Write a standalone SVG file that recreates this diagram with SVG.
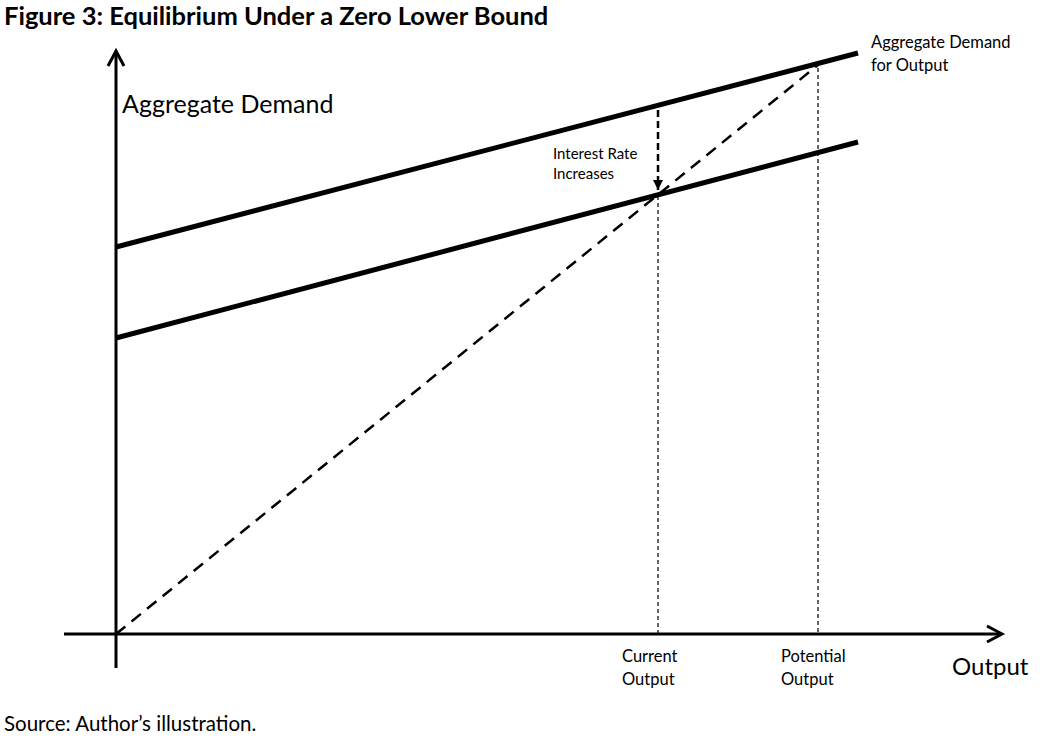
<svg xmlns="http://www.w3.org/2000/svg" width="1044" height="739" viewBox="0 0 1044 739">
<defs>
<style>
text{font-family:Lato,"Open Sans",sans-serif;fill:#000}
.s{font-size:16.5px}
.ax{stroke:#000;stroke-width:3;fill:none}
.ad{stroke:#000;stroke-width:5;fill:none}
.tn{stroke:#000;stroke-width:1.2;stroke-dasharray:4 3;fill:none}
</style>
<marker id="af" viewBox="0 0 10 10" refX="10" refY="5" markerWidth="10" markerHeight="10" orient="auto" markerUnits="userSpaceOnUse"><path d="M0,0 L10,5 L0,10 z" fill="#000"/></marker>
</defs>
<rect width="1044" height="739" fill="#fff"/>
<text x="4" y="25" style="font-size:25.5px;font-weight:bold">Figure 3: Equilibrium Under a Zero Lower Bound</text>
<g id="axes">
<line class="ax" x1="116" y1="668" x2="116" y2="52"/>
<path class="ax" d="M108,66 L116,51 L124,66"/>
<line class="ax" x1="64" y1="634" x2="1000" y2="634"/>
<path class="ax" d="M987,626 L1002,634 L987,642"/>
</g>
<g id="curves">
<line class="ad" x1="116" y1="247" x2="858" y2="53"/>
<line class="ad" x1="116" y1="338" x2="858" y2="142"/>
</g>
<g id="connectors">
<line x1="116" y1="634" x2="818" y2="65" stroke="#000" stroke-width="2.5" stroke-dasharray="12 8"/>
<line x1="658" y1="110" x2="658" y2="190" stroke="#000" stroke-width="2.5" stroke-dasharray="7 4" marker-end="url(#af)"/>
<line class="tn" x1="658" y1="196" x2="658" y2="634"/>
<line class="tn" x1="818" y1="68" x2="818" y2="634"/>
</g>
<g id="labels">
<text x="122" y="113" style="font-size:25px">Aggregate Demand</text>
<text x="871" y="48" class="s">Aggregate Demand</text>
<text x="871" y="71" class="s">for Output</text>
<text x="553" y="159" style="font-size:15px">Interest Rate</text>
<text x="553" y="179" style="font-size:15px">Increases</text>
<text x="622" y="662" class="s">Current</text>
<text x="622" y="685" class="s">Output</text>
<text x="781" y="662" class="s">Potential</text>
<text x="781" y="685" class="s">Output</text>
<text x="952" y="675" style="font-size:24px">Output</text>
<text x="4" y="731" style="font-size:20.5px">Source: Author’s illustration.</text>
</g>
</svg>
